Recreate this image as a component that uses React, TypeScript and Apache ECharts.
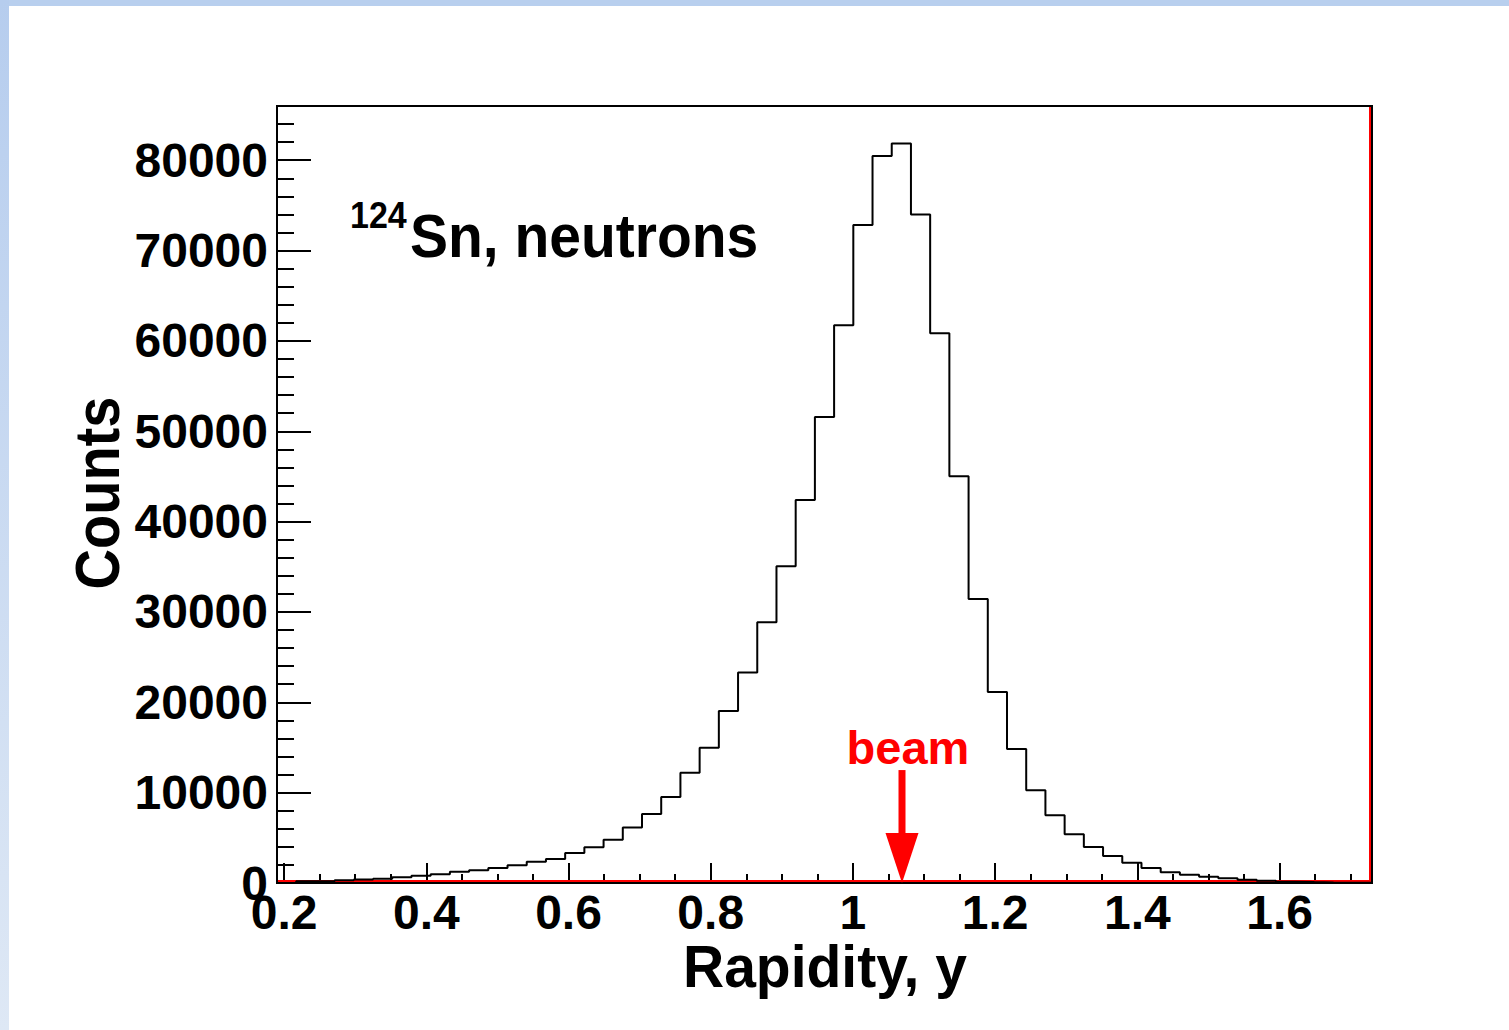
import React, { useEffect, useRef } from "react";
import * as echarts from "echarts";

// ---- data ----
const X_MIN = 0.19;
const X_MAX = 1.73;
const Y_MAX = 86000;

// 57 bins of rapidity between X_MIN and X_MAX
const counts = [
  40, 180, 200, 300, 390, 480, 630, 810, 960, 1250,
  1400, 1660, 1960, 2360, 2660, 3320, 3950, 4800, 6150, 7650,
  9530, 12190, 14960, 19050, 23310, 28860, 35050, 42400, 51570, 61730,
  72840, 80475, 81840, 73980, 60840, 45020, 31440, 21145, 14835, 10260,
  7495, 5390, 3990, 2990, 2250, 1660, 1180, 925, 700, 520,
  370, 260, 150, 100, 60, 40, 20,
];

const xMajorTicks = [0.2, 0.4, 0.6, 0.8, 1.0, 1.2, 1.4, 1.6];
const xMinorTicks = [
  0.2, 0.25, 0.3, 0.35, 0.4, 0.45, 0.5, 0.55, 0.6, 0.65, 0.7, 0.75, 0.8, 0.85,
  0.9, 0.95, 1.0, 1.05, 1.1, 1.15, 1.2, 1.25, 1.3, 1.35, 1.4, 1.45, 1.5, 1.55,
  1.6, 1.65, 1.7,
];
const Y_MAJOR_STEP = 10000;
const Y_MINOR_STEP = 2000;

const BEAM_RAPIDITY = 1.069;
const BEAM_ARROW_TOP = 12500;

const TITLE_X = "Rapidity, y";
const TITLE_Y = "Counts";
const LABEL_ISOTOPE = "124";
const LABEL_MAIN = "Sn, neutrons";
const LABEL_BEAM = "beam";

const FONT = '"Liberation Sans", Arial, Helvetica, sans-serif';

function fmtX(v: number) {
  return String(Math.round(v * 10) / 10);
}

export default function App() {
  const ref = useRef<HTMLDivElement>(null);

  useEffect(() => {
    if (!ref.current) return;
    const chart = echarts.init(ref.current, null, { renderer: "svg" });

    const nb = counts.length;
    const w = (X_MAX - X_MIN) / nb;
    const histData: number[][] = [[X_MIN, 0]];
    counts.forEach((c, i) => histData.push([X_MIN + i * w, c]));
    histData.push([X_MAX, counts[nb - 1]]);
    histData.push([X_MAX, 0]);

    const labelStyle = {
      color: "#000",
      fontFamily: FONT,
      fontWeight: "bold" as const,
      fontSize: 48,
    };

    chart.setOption({
      animation: false,
      backgroundColor: "transparent",
      grid: {
        left: 277,
        top: 106,
        width: 1095,
        height: 777,
        show: true,
        borderColor: "#000",
        borderWidth: 2,
        backgroundColor: "transparent",
      },
      xAxis: [
        {
          type: "value",
          min: X_MIN,
          max: X_MAX,
          position: "bottom",
          axisLine: { show: false },
          splitLine: { show: false },
          axisTick: {
            show: true,
            inside: true,
            length: 20,
            lineStyle: { color: "#000", width: 2 },
            customValues: xMajorTicks,
          },
          axisLabel: {
            ...labelStyle,
            margin: 5,
            customValues: xMajorTicks,
            formatter: (v: number) => fmtX(v),
          },
        },
        {
          type: "value",
          min: X_MIN,
          max: X_MAX,
          position: "bottom",
          axisLine: { show: false },
          splitLine: { show: false },
          axisTick: {
            show: true,
            inside: true,
            length: 9,
            lineStyle: { color: "#000", width: 2 },
            customValues: xMinorTicks,
          },
          axisLabel: { show: false },
        },
      ],
      yAxis: [
        {
          type: "value",
          min: 0,
          max: Y_MAX,
          interval: Y_MAJOR_STEP,
          position: "left",
          axisLine: { show: false },
          splitLine: { show: false },
          axisTick: {
            show: true,
            inside: true,
            length: 34,
            lineStyle: { color: "#000", width: 2 },
          },
          axisLabel: {
            ...labelStyle,
            margin: 9,
            showMaxLabel: false,
            formatter: (v: number) => (v > 80000 ? "" : String(v)),
          },
        },
        {
          type: "value",
          min: 0,
          max: Y_MAX,
          interval: Y_MINOR_STEP,
          position: "left",
          axisLine: { show: false },
          splitLine: { show: false },
          axisTick: {
            show: true,
            inside: true,
            length: 17,
            lineStyle: { color: "#000", width: 2 },
          },
          axisLabel: { show: false },
        },
      ],
      series: [
        {
          type: "line",
          xAxisIndex: 0,
          yAxisIndex: 0,
          step: "end",
          data: histData,
          showSymbol: false,
          symbol: "none",
          lineStyle: { color: "#000", width: 2 },
          z: 5,
        },
      ],
    });

    const p0 = chart.convertToPixel({ xAxisIndex: 0, yAxisIndex: 0 }, [X_MIN, 0]) as number[];
    const p1 = chart.convertToPixel({ xAxisIndex: 0, yAxisIndex: 0 }, [X_MAX, Y_MAX]) as number[];
    const pb = chart.convertToPixel({ xAxisIndex: 0, yAxisIndex: 0 }, [BEAM_RAPIDITY, 0]) as number[];
    const pt = chart.convertToPixel({ xAxisIndex: 0, yAxisIndex: 0 }, [BEAM_RAPIDITY, BEAM_ARROW_TOP]) as number[];
    const headLen = 50;
    const headHalf = 16.5;

    chart.setOption({
      graphic: [
        {
          type: "polyline",
          z: 3,
          shape: {
            points: [
              [p0[0] + 1, p0[1] - 2],
              [p1[0] - 2, p0[1] - 2],
              [p1[0] - 2, p1[1] + 1],
            ],
          },
          style: { stroke: "#ff0000", lineWidth: 2, fill: null },
          silent: true,
        },
        {
          type: "rect",
          z: 10,
          shape: { x: pb[0] - 3.5, y: pt[1], width: 7, height: pb[1] - headLen - pt[1] + 1 },
          style: { fill: "#ff0000" },
        },
        {
          type: "polygon",
          z: 10,
          shape: {
            points: [
              [pb[0] - headHalf, pb[1] - headLen],
              [pb[0] + headHalf, pb[1] - headLen],
              [pb[0], pb[1]],
            ],
          },
          style: { fill: "#ff0000" },
        },
        {
          type: "text",
          z: 10,
          x: pb[0] + 6,
          y: pt[1] - 23,
          style: {
            text: LABEL_BEAM,
            fill: "#ff0000",
            font: `bold 47px ${FONT}`,
            align: "center",
            verticalAlign: "middle",
          },
        },
        {
          type: "text",
          z: 10,
          x: 350,
          y: 215,
          scaleY: 1.06,
          style: {
            text: LABEL_ISOTOPE,
            fill: "#000",
            font: `bold 34px ${FONT}`,
            align: "left",
            verticalAlign: "middle",
          },
        },
        {
          type: "text",
          z: 10,
          x: 410,
          y: 236,
          scaleY: 1.08,
          style: {
            text: LABEL_MAIN,
            fill: "#000",
            font: `bold 57px ${FONT}`,
            align: "left",
            verticalAlign: "middle",
          },
        },
        {
          type: "text",
          z: 10,
          x: 825,
          y: 966,
          scaleY: 1.04,
          style: {
            text: TITLE_X,
            fill: "#000",
            font: `bold 57px ${FONT}`,
            align: "center",
            verticalAlign: "middle",
          },
        },
        {
          type: "text",
          z: 10,
          x: 97,
          y: 493,
          rotation: Math.PI / 2,
          scaleY: 1.12,
          style: {
            text: TITLE_Y,
            fill: "#000",
            font: `bold 56px ${FONT}`,
            align: "center",
            verticalAlign: "middle",
          },
        },
      ],
    });

    return () => chart.dispose();
  }, []);

  return (
    <div
      style={{
        position: "fixed",
        left: 0,
        top: 0,
        width: 1509,
        height: 1030,
        background: "#ffffff",
        overflow: "hidden",
      }}
    >
      <div
        style={{
          position: "absolute",
          left: 0,
          top: 0,
          width: 1509,
          height: 6,
          background: "#b8cfee",
        }}
      />
      <div
        style={{
          position: "absolute",
          left: 0,
          top: 0,
          width: 9,
          height: 1030,
          background: "linear-gradient(#b6cdee, #dee8f5)",
        }}
      />
      <div
        ref={ref}
        style={{ position: "absolute", left: 0, top: 0, width: 1509, height: 1030 }}
      />
    </div>
  );
}
